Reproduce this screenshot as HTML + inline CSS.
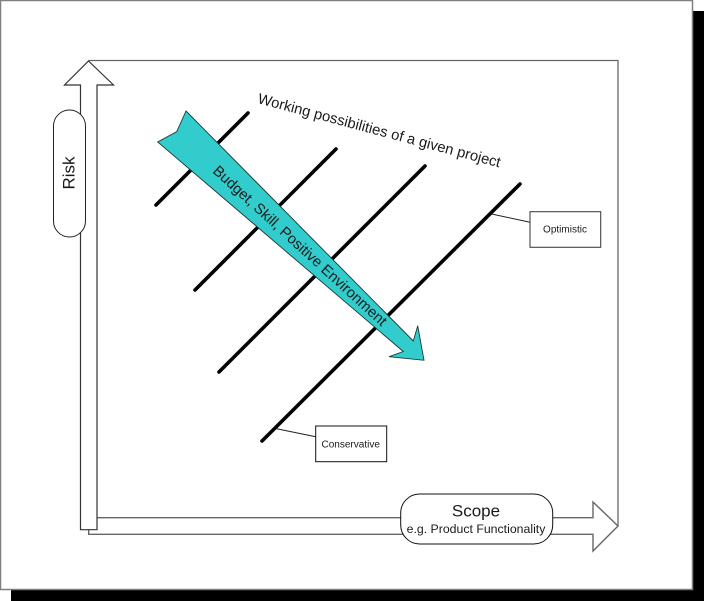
<!DOCTYPE html>
<html><head><meta charset="utf-8"><style>
html,body{margin:0;padding:0;background:#fff;width:704px;height:601px;overflow:hidden}
svg{display:block}
text{font-family:"Liberation Sans",Arial,sans-serif;fill:#1a1a1a}
</style></head><body>
<svg width="704" height="601" viewBox="0 0 704 601" xmlns="http://www.w3.org/2000/svg">
<rect width="704" height="601" fill="#fff"/>
<rect x="11" y="11" width="693" height="590" fill="#000"/>
<rect x="0.5" y="0.5" width="692" height="589" fill="#fff" stroke="#808080" stroke-width="1.5"/>
<!-- horizontal axis arrow + frame -->
<path d="M88.5,60.5H618V526" fill="none" stroke="#666" stroke-width="1.3"/>
<path d="M97,517.7H593V502L618,526L593,551V534.3H88.7V529" fill="#fff" stroke="#666" stroke-width="1.4"/>
<!-- vertical axis arrow -->
<polygon points="88.5,61 113.5,85 97,85 97,529.7 80.5,529.7 80.5,85 64.5,85" fill="#fff" stroke="#333" stroke-width="1.2"/>
<!-- thick lines -->
<g stroke="#000" stroke-width="3.6" stroke-linecap="round" fill="none">
<line x1="156" y1="205" x2="248" y2="113"/>
<line x1="195" y1="290" x2="336" y2="149"/>
<line x1="219" y1="372" x2="425" y2="166"/>
<line x1="262" y1="441" x2="520" y2="184"/>
</g>
<!-- leaders -->
<line x1="491.7" y1="214" x2="530" y2="222.3" stroke="#222" stroke-width="1"/>
<line x1="276.7" y1="428.7" x2="315.7" y2="436.7" stroke="#222" stroke-width="1"/>
<!-- teal arrow -->
<polygon points="186,111 413.3,341 417.7,325.7 424,360.3 389,356.7 403.3,351.5 157.7,142 176.7,131.7" fill="#33cccc" stroke="#1a3a3a" stroke-width="0.9"/>
<text transform="translate(212,172) rotate(42.4)" font-size="14.8">Budget, Skill, Positive Environment</text>
<!-- pills -->
<rect x="53.5" y="110" width="32" height="127" rx="16" ry="16" fill="#fff" stroke="#222" stroke-width="1"/>
<text transform="translate(74.3,189.5) rotate(-90)" font-size="17">Risk</text>
<rect x="400.7" y="494" width="152" height="50" rx="19" ry="19" fill="#fff" stroke="#111" stroke-width="1"/>
<text x="476" y="516.7" font-size="17" text-anchor="middle">Scope</text>
<text x="476" y="533" font-size="12.3" text-anchor="middle">e.g. Product Functionality</text>
<!-- note boxes -->
<rect x="530" y="211.7" width="70.7" height="35.6" fill="#fff" stroke="#444" stroke-width="1.1"/>
<text x="565" y="232.7" font-size="10" text-anchor="middle">Optimistic</text>
<rect x="315.7" y="426" width="71" height="35.7" fill="#fff" stroke="#111" stroke-width="1"/>
<text x="350.7" y="447.3" font-size="10" text-anchor="middle">Conservative</text>
<text transform="translate(257,103) rotate(14.9)" font-size="14.8">Working possibilities of a given project</text>
</svg>
</body></html>
